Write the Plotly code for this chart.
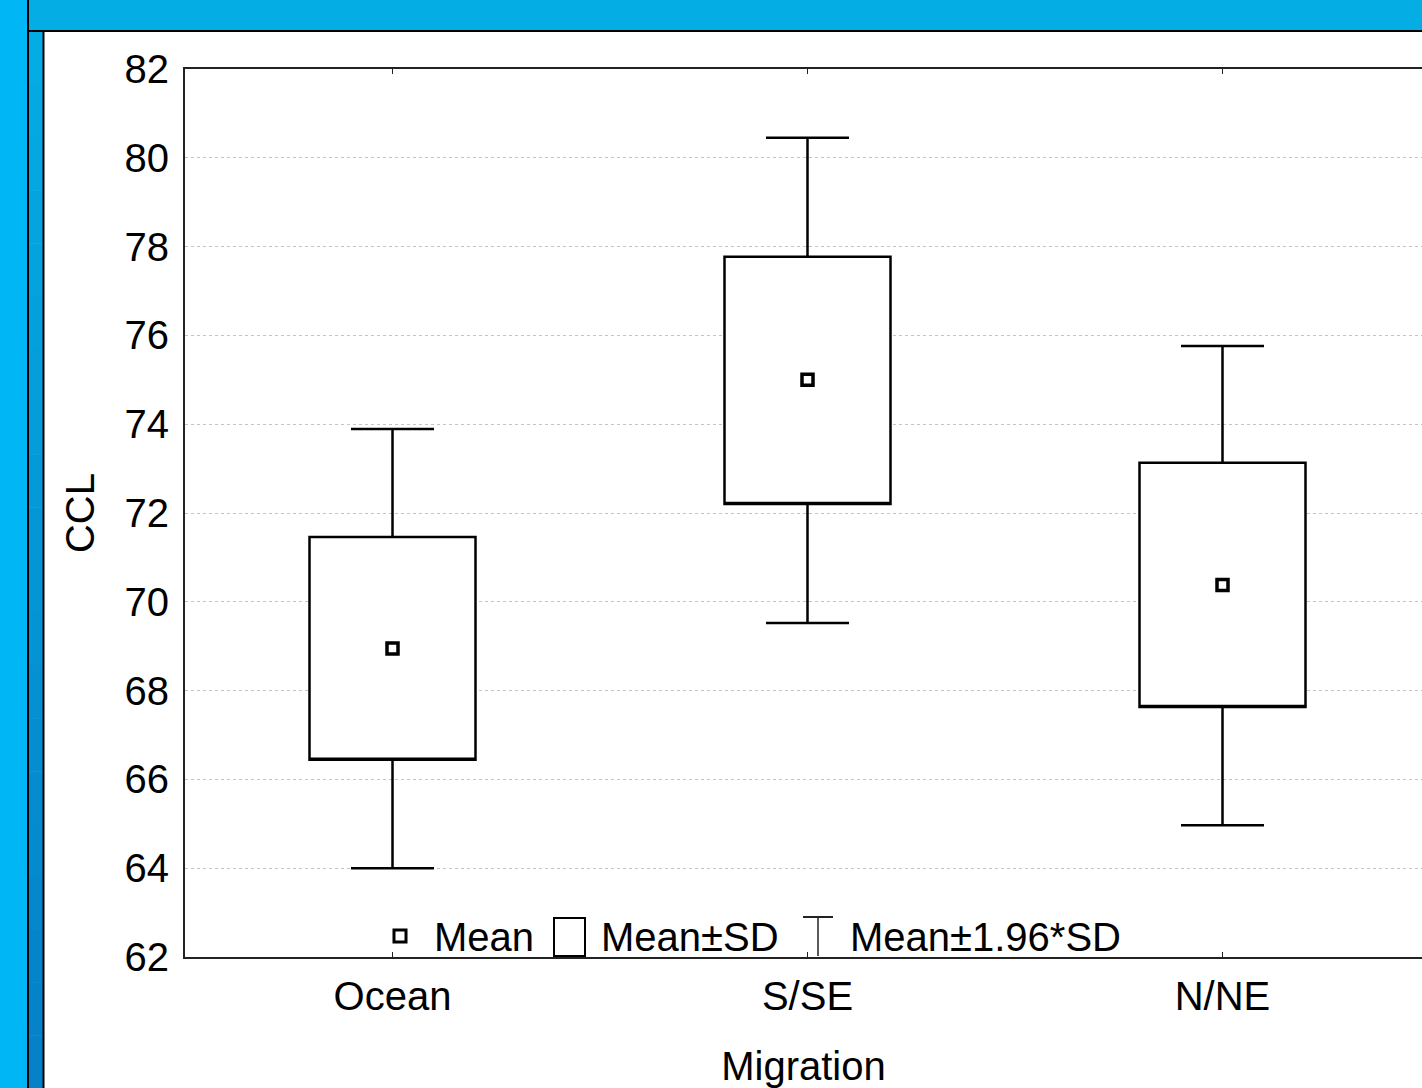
import plotly.graph_objects as go

# ---- data ----
categories = ["Ocean", "S/SE", "N/NE"]
means = [68.95, 75.0, 70.38]
sd_low = [66.44, 72.2, 67.63]
sd_high = [71.46, 77.77, 73.13]
ci_low = [64.0, 69.52, 64.97]
ci_high = [73.89, 80.45, 75.76]
y_ticks = [62, 64, 66, 68, 70, 72, 74, 76, 78, 80, 82]
legend_labels = ["Mean", "Mean±SD", "Mean±1.96*SD"]

W, H = 1422, 1088
L, T, B = 185, 69, 131
PW = W - L
PH = H - T - B
FONT = "Liberation Sans, Arial, sans-serif"


def px(xp):
    return (xp - L) / PW


def py(yp):
    return (H - B - yp) / PH


fig = go.Figure()

fig.add_trace(go.Box(
    x=categories,
    q1=sd_low,
    median=sd_low,
    q3=sd_high,
    lowerfence=ci_low,
    upperfence=ci_high,
    boxpoints=False,
    width=0.4,
    whiskerwidth=0.5,
    fillcolor="white",
    line=dict(color="black", width=2.5),
    hoverinfo="skip",
    showlegend=False,
))

fig.add_trace(go.Scatter(
    x=categories,
    y=means,
    mode="markers",
    marker=dict(symbol="square-open", size=11, color="black",
                line=dict(color="black", width=3.5)),
    hoverinfo="skip",
    showlegend=False,
))

shapes = []
# background slide decoration
shapes.append(dict(type="rect", xref="paper", yref="paper",
                   x0=px(0), x1=px(W), y0=py(32), y1=py(0),
                   fillcolor="#05ADE5", line=dict(width=0), layer="below"))
shapes.append(dict(type="rect", xref="paper", yref="paper",
                   x0=px(0), x1=px(28), y0=py(H), y1=py(0),
                   fillcolor="#00B6F4", line=dict(width=0), layer="below"))
# middle strip with vertical gradient
n = 20
for i in range(n):
    y0p = 32 + (H - 32) * i / n
    y1p = 32 + (H - 32) * (i + 1) / n
    t = (i + 0.5) / n
    r = int(5 + (4 - 5) * t)
    g = int(173 + (128 - 173) * t)
    b = int(229 + (200 - 229) * t)
    shapes.append(dict(type="rect", xref="paper", yref="paper",
                       x0=px(28.5), x1=px(43.5), y0=py(y1p + 0.5), y1=py(y0p),
                       fillcolor=f"rgb({r},{g},{b})", line=dict(width=0), layer="below"))
# black separator lines
shapes.append(dict(type="line", xref="paper", yref="paper",
                   x0=px(28), x1=px(28), y0=py(H), y1=py(0),
                   line=dict(color="black", width=2), layer="below"))
shapes.append(dict(type="line", xref="paper", yref="paper",
                   x0=px(28), x1=px(W), y0=py(31), y1=py(31),
                   line=dict(color="black", width=2), layer="below"))
shapes.append(dict(type="line", xref="paper", yref="paper",
                   x0=px(43.5), x1=px(43.5), y0=py(H), y1=py(31),
                   line=dict(color="black", width=2), layer="below"))

# legend icons
shapes.append(dict(type="rect", xref="paper", yref="paper",
                   x0=px(394), x1=px(406), y0=py(942), y1=py(930),
                   line=dict(color="black", width=3), fillcolor="white"))
shapes.append(dict(type="rect", xref="paper", yref="paper",
                   x0=px(554), x1=px(585), y0=py(956), y1=py(918),
                   line=dict(color="black", width=2), fillcolor="white"))
shapes.append(dict(type="line", xref="paper", yref="paper",
                   x0=px(803), x1=px(833), y0=py(917), y1=py(917),
                   line=dict(color="#222", width=2)))
shapes.append(dict(type="line", xref="paper", yref="paper",
                   x0=px(818), x1=px(818), y0=py(956), y1=py(917),
                   line=dict(color="#222", width=1.5)))

annotations = []
for label, xp0 in zip(legend_labels, [432, 599, 848]):
    annotations.append(dict(text=label, xref="paper", yref="paper",
                            x=px(xp0), y=py(937), xanchor="left", yanchor="middle",
                            showarrow=False, font=dict(size=40, color="black", family=FONT)))

fig.update_layout(
    width=W, height=H,
    margin=dict(l=L, r=0, t=T, b=B),
    paper_bgcolor="white",
    plot_bgcolor="white",
    font=dict(family=FONT, size=40, color="black"),
    shapes=shapes,
    annotations=annotations,
    showlegend=False,
    xaxis=dict(
        type="category",
        categoryorder="array", categoryarray=categories,
        range=[-0.5, -0.5 + PW / 415.0],
        showline=True, linecolor="#222", linewidth=2,
        mirror="ticks",
        ticks="inside", ticklen=5, tickcolor="#222", tickwidth=1,
        showgrid=False, zeroline=False,
        tickfont=dict(size=40),
        ticklabelstandoff=3,
        title=dict(text="Migration", font=dict(size=40), standoff=35),
    ),
    yaxis=dict(
        range=[62, 82],
        tickvals=y_ticks,
        ticktext=[str(v) for v in y_ticks],
        showline=True, linecolor="#222", linewidth=2,
        ticks="", showgrid=True, gridcolor="#C4C4C4", gridwidth=1, griddash="dot",
        zeroline=False,
        tickfont=dict(size=40),
        ticklabelstandoff=6,
        title=dict(text="CCL", font=dict(size=40), standoff=18),
    ),
)

fig.write_html(
    "out.html",
    config={"displayModeBar": False},
    post_script="document.body.style.margin='0';document.body.style.overflow='hidden';",
)
